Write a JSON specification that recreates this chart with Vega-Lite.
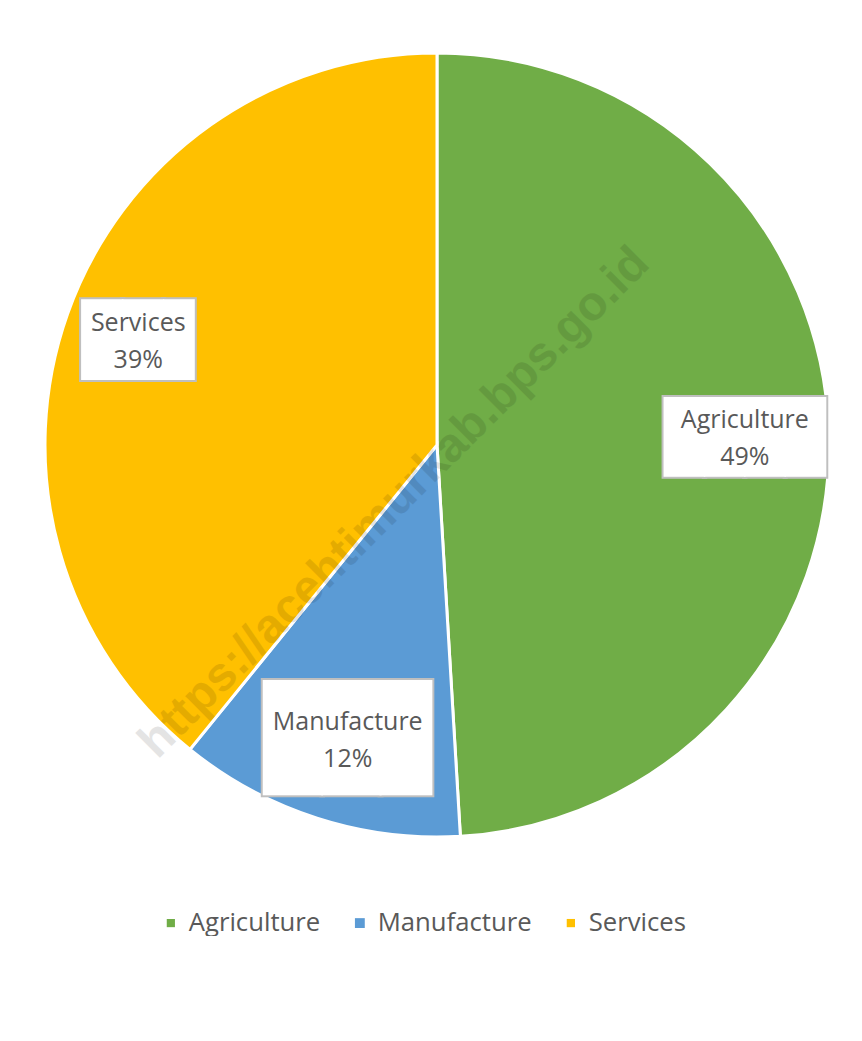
{
  "$schema": "https://vega.github.io/schema/vega-lite/v6.json",
  "width": 848,
  "height": 890,
  "padding": {"left": 13, "top": 0, "right": 0, "bottom": 0},
  "background": "white",
  "config": {"view": {"stroke": null}},
  "layer": [
    {
      "data": {"name": "shares", "values": [
        {"category": "Agriculture", "share": 49.05, "label": "Agriculture\n49%"},
        {"category": "Manufacture", "share": 11.8, "label": "Manufacture\n12%"},
        {"category": "Services", "share": 39.15, "label": "Services\n39%"}
      ]},
      "layer": [
        {
          "mark": {"type": "arc", "radius": 392, "stroke": "white", "strokeWidth": 3},
          "encoding": {
            "theta": {"field": "share", "type": "quantitative", "stack": true},
            "color": {
              "field": "category", "type": "nominal",
              "scale": {"domain": ["Agriculture", "Manufacture", "Services"], "range": ["#70AD47", "#5B9BD5", "#FFC000"]},
              "legend": {
                "title": null, "orient": "none", "direction": "horizontal",
                "legendX": 145, "legendY": 910, "padding": 0,
                "symbolType": "square", "symbolSize": 100, "symbolStrokeWidth": 0,
                "labelFont": "Open Sans", "labelFontSize": 25.7, "labelColor": "#595959", "labelLimit": 400,
                "labelOffset": 5, "columnPadding": 26
              }
            }
          }
        },
        {
          "mark": {"type": "text", "font": "DejaVu Sans Mono", "fill": "#BFBFBF", "stroke": "#BFBFBF", "strokeWidth": 4, "align": "center", "baseline": "middle", "dy": 4,
                   "radius": {"expr": "datum.category === 'Services' ? 317 : 308"},
                   "dx": {"expr": "datum.category === 'Services' ? 5.1 : datum.category === 'Manufacture' ? 8.6 : 0"}},
          "encoding": {
            "theta": {"field": "share", "type": "quantitative", "stack": true},
            "detail": {"field": "category", "type": "nominal"},
            "text": {"condition": [{"test": "datum.category === 'Services'", "value": "██▊"}, {"test": "datum.category === 'Manufacture'", "value": "██▉"}], "value": "████"},
            "size": {"field": "category", "type": "nominal", "scale": {"type": "ordinal", "domain": ["Agriculture", "Manufacture", "Services"], "range": [67, 97, 68]}, "legend": null}
          }
        },
        {
          "mark": {"type": "text", "font": "DejaVu Sans Mono", "fill": "white", "align": "center", "baseline": "middle", "dy": 4,
                   "radius": {"expr": "datum.category === 'Services' ? 317 : 308"},
                   "dx": {"expr": "datum.category === 'Services' ? 5.1 : datum.category === 'Manufacture' ? 8.6 : 0"}},
          "encoding": {
            "theta": {"field": "share", "type": "quantitative", "stack": true},
            "detail": {"field": "category", "type": "nominal"},
            "text": {"condition": [{"test": "datum.category === 'Services'", "value": "██▊"}, {"test": "datum.category === 'Manufacture'", "value": "██▉"}], "value": "████"},
            "size": {"field": "category", "type": "nominal", "scale": {"type": "ordinal", "domain": ["Agriculture", "Manufacture", "Services"], "range": [67, 97, 68]}, "legend": null}
          }
        },
        {
          "mark": {"type": "text", "font": "Open Sans", "fontSize": 25, "fill": "#595959", "align": "center", "baseline": "middle", "lineBreak": "\n", "lineHeight": 37, "dy": -16,
                   "radius": {"expr": "datum.category === 'Services' ? 317 : 308"},
                   "dx": {"expr": "datum.category === 'Manufacture' ? 5 : 0"}},
          "encoding": {
            "theta": {"field": "share", "type": "quantitative", "stack": true},
            "detail": {"field": "category", "type": "nominal"},
            "text": {"field": "label", "type": "nominal"}
          }
        }
      ]
    },
    {
      "data": {"values": [{"mark": "https://acehtimurkab.bps.go.id"}]},
      "mark": {"type": "text", "font": "Liberation Sans", "fontWeight": "bold", "fontSize": 48, "fill": "black", "opacity": 0.1, "angle": -45, "align": "center", "baseline": "middle", "dx": -71, "dy": 11},
      "encoding": {"text": {"field": "mark", "type": "nominal"}}
    }
  ]
}
